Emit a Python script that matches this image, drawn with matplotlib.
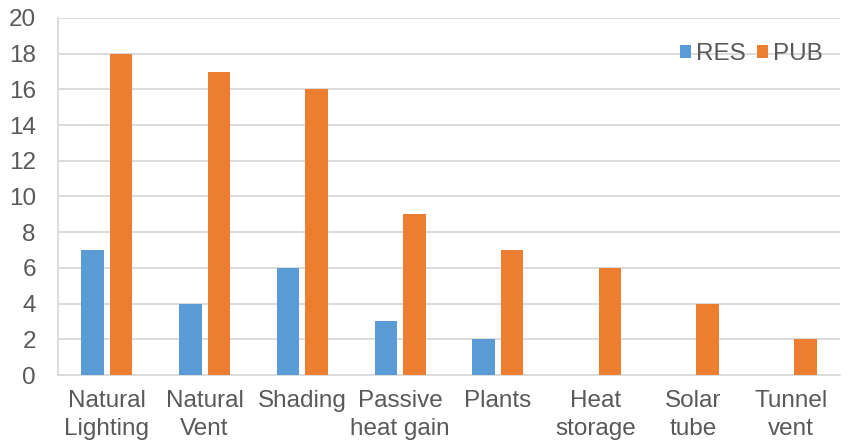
import matplotlib
matplotlib.use('Agg')
import matplotlib.pyplot as plt
import numpy as np

categories = ['Natural\nLighting', 'Natural\nVent', 'Shading', 'Passive\nheat gain',
              'Plants', 'Heat\nstorage', 'Solar\ntube', 'Tunnel\nvent']
res = [7, 4, 6, 3, 2, 0, 0, 0]
pub = [18, 17, 16, 9, 7, 6, 4, 2]
yticks = [0, 2, 4, 6, 8, 10, 12, 14, 16, 18, 20]

plt.rcParams['font.family'] = ['Liberation Sans', 'DejaVu Sans']
txt = '#595959'

fig = plt.figure(figsize=(8.55, 4.4), dpi=100)
ax = fig.add_axes([58 / 855, 1 - 375 / 440, (840 - 58) / 855, (375 - 18) / 440])

x = np.arange(len(categories))
w = 0.23
ax.bar(x - 0.145, res, w, color='#5b9bd5', label='RES', zorder=3)
ax.bar(x + 0.145, pub, w, color='#ed7d31', label='PUB', zorder=3)

ax.set_xlim(-0.5, len(categories) - 0.5)
ax.set_ylim(0, 20)
ax.set_yticks(yticks)
ax.set_xticks(x)
ax.set_xticklabels(categories, linespacing=1.33)
ax.tick_params(axis='both', length=0, labelsize=17.5, colors=txt)
ax.tick_params(axis='y', pad=16)
ax.tick_params(axis='x', pad=11)
ax.grid(axis='y', color='#d9d9d9', linewidth=1.3, zorder=0)
for s in ['top', 'right']:
    ax.spines[s].set_visible(False)
for s in ['left', 'bottom']:
    ax.spines[s].set_color('#d9d9d9')
    ax.spines[s].set_linewidth(1.3)

ax.legend(loc='center right', bbox_to_anchor=(1.0, 0.9), ncol=2, frameon=False,
          fontsize=17.5, labelcolor=txt, handlelength=0.45, handleheight=0.45,
          handletextpad=0.2, columnspacing=0.5, borderpad=0.2)

fig.text(0.5, 1.012, 'Frequency of Passive Design Strategy', ha='center', va='bottom',
         fontsize=17, fontweight='bold', color=txt)

fig.savefig('out.png', dpi=100)
